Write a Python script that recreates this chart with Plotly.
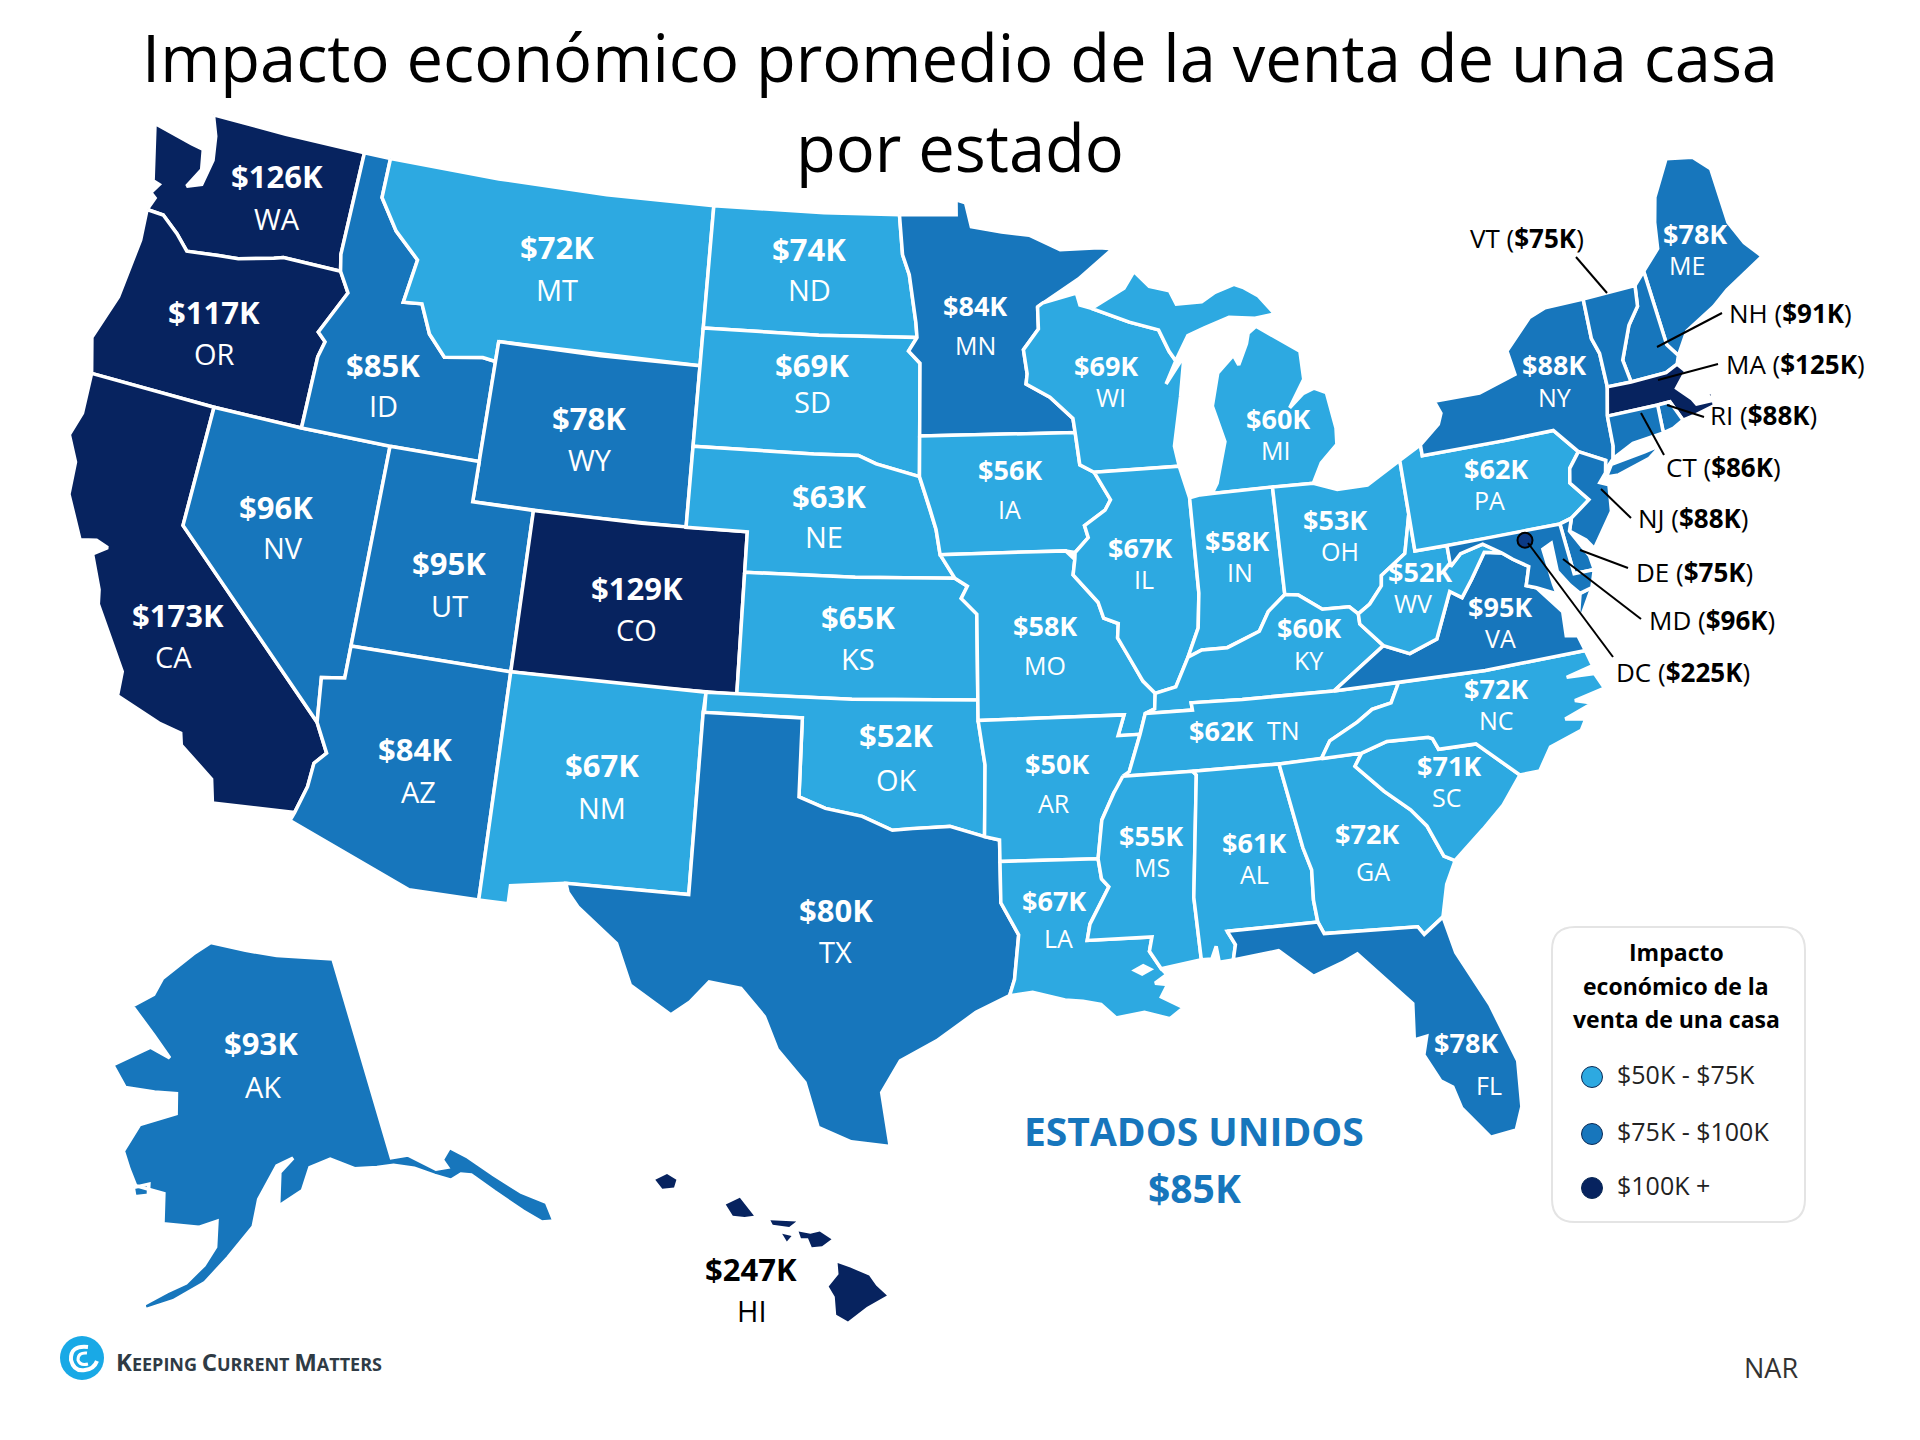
import numpy as np
import plotly.graph_objects as go

# the usa topojson is on a cdn and there is no network, so the outlines live here (lon, lat)
states = ["WA", "OR", "CA", "NV", "ID", "MT", "WY", "UT", "AZ", "CO", "NM", "ND", "SD", "NE", "KS", "OK", "TX",
          "MN", "IA", "MO", "AR", "LA", "WI", "IL", "MI", "IN", "OH", "KY", "TN", "MS", "AL", "GA", "FL", "SC",
          "NC", "VA", "WV", "PA", "NY", "ME", "AK", "HI"]
values = [126, 117, 173, 96, 85, 72, 78, 95, 84, 129, 67, 74, 69, 63, 65, 52, 80,
          84, 56, 58, 50, 67, 69, 67, 60, 58, 53, 60, 62, 55, 61, 72, 78, 71,
          72, 95, 52, 62, 88, 78, 93, 247]

small_states = ["VT", "NH", "MA", "RI", "CT", "NJ", "DE", "MD", "DC"]
small_values = [75, 91, 125, 88, 86, 88, 75, 96, 225]

legend_labels = ["$50K - $75K", "$75K - $100K", "$100K +"]
legend_title = ["Impacto", "económico de la", "venta de una casa"]
title_lines = ["Impacto económico promedio de la venta de una casa", "por estado"]
national_label = "ESTADOS UNIDOS"
national_value = 85

LIGHT = "#2DA9E1"
MID = "#1776BC"
DARK = "#07235F"

miss_upper = [(-92.8, 44.75), (-92.0, 44.4), (-91.25, 43.85), (-91.2, 43.5), (-91.1, 42.7), (-90.64, 42.5)]
miss_ia = [(-90.64, 42.5), (-90.15, 41.8), (-90.35, 41.55), (-91.05, 41.2), (-90.95, 40.9), (-91.4, 40.55), (-91.42, 40.38)]
miss_mo = [(-91.42, 40.38), (-91.5, 40.0), (-90.75, 39.3), (-90.6, 38.9), (-90.15, 38.75), (-90.2, 38.4), (-89.9, 37.95),
           (-89.5, 37.3), (-89.15, 36.98)]
ohio_west = [(-89.15, 36.98), (-88.5, 37.1), (-88.05, 37.8)]
ohio_in = [(-88.05, 37.8), (-87.6, 37.95), (-86.8, 37.95), (-86.3, 38.1), (-85.75, 38.27), (-85.4, 38.73), (-84.82, 39.1)]
ohio_oh = [(-84.82, 39.1), (-84.4, 39.05), (-83.7, 38.63), (-82.85, 38.6), (-82.6, 38.4)]
ohio_wv = [(-82.6, 38.4), (-82.2, 38.6), (-81.75, 39.0), (-81.7, 39.25), (-80.85, 39.7), (-80.6, 40.4), (-80.52, 40.64)]
colorado = [(-114.04, 36.2), (-114.74, 36.1), (-114.6, 35.0), (-114.14, 34.3), (-114.45, 34.0), (-114.5, 33.4), (-114.72, 32.72)]
red_river = [(-94.48, 33.64), (-95.5, 33.9), (-96.6, 33.85), (-97.2, 33.8), (-98.1, 34.13), (-99.2, 34.3), (-100.0, 34.56)]
rio_grande = [(-106.53, 31.78), (-106.2, 31.45), (-105.0, 30.65), (-104.5, 29.65), (-103.3, 29.0), (-102.8, 29.35),
              (-102.3, 29.88), (-101.4, 29.77), (-100.7, 29.1), (-100.3, 28.3), (-99.5, 27.5), (-99.1, 26.4), (-98.2, 26.06),
              (-97.15, 25.96)]

outlines = {
    "WA": [[(-122.75, 49), (-120, 49), (-117.03, 49), (-117.04, 46.4), (-116.92, 45.99), (-118.98, 46), (-119.3, 45.93),
            (-120.5, 45.7), (-121.2, 45.65), (-122.3, 45.55), (-122.8, 45.9), (-123.45, 46.25), (-124.05, 46.27),
            (-123.9, 46.6), (-124.1, 46.7), (-123.9, 46.95), (-124.15, 47), (-124.4, 47.6), (-124.7, 48.38), (-123.2, 48.15),
            (-122.75, 48.1), (-122.6, 47.6), (-122.95, 47.1), (-122.45, 47.25), (-122.3, 47.9), (-122.45, 48.5)]],
    "OR": [[(-124.05, 46.27), (-123.45, 46.25), (-122.8, 45.9), (-122.3, 45.55), (-121.2, 45.65), (-120.5, 45.7),
            (-119.3, 45.93), (-118.98, 46), (-116.92, 45.99), (-116.5, 45.5), (-117.2, 44.4), (-116.9, 44.2),
            (-117.03, 43.8), (-117.03, 42), (-120, 42), (-124.2, 42), (-124.55, 42.85), (-124.1, 44), (-123.95, 45.5)]],
    "CA": [[(-124.2, 42), (-120, 42), (-120, 39)] + colorado[2:] + [(-117.12, 32.53), (-117.3, 33.1), (-118.4, 33.75),
            (-118.5, 34.03), (-119.2, 34.15), (-120.6, 34.55), (-120.65, 35.15), (-121.9, 36.6), (-122.0, 36.95),
            (-122.5, 37.75), (-122.1, 38.0), (-122.5, 38.1), (-123.0, 38.0), (-123.75, 39.0), (-123.85, 39.8), (-124.3, 40.4), (-124.1, 41.0)]],
    "NV": [[(-120, 42), (-117.03, 42), (-114.04, 42), (-114.04, 37)] + colorado[:3] + [(-120, 39)]],
    "ID": [[(-117.03, 49), (-116.05, 49), (-116.05, 48), (-115.3, 47.25), (-114.35, 46.65), (-114.55, 45.55), (-113.9, 45.6),
            (-113.45, 44.9), (-112.8, 44.4), (-111.5, 44.55), (-111.05, 44.5), (-111.05, 42), (-114.04, 42), (-117.03, 42),
            (-117.03, 43.8), (-116.9, 44.2), (-117.2, 44.4), (-116.5, 45.5), (-116.92, 45.99), (-117.04, 46.4)]],
    "MT": [[(-116.05, 49), (-112, 49), (-108, 49), (-104.05, 49), (-104.05, 45), (-111.05, 45), (-111.05, 44.5), (-111.5, 44.55),
            (-112.8, 44.4), (-113.45, 44.9), (-113.9, 45.6), (-114.55, 45.55), (-114.35, 46.65), (-115.3, 47.25), (-116.05, 48)]],
    "WY": [[(-111.05, 45), (-107.5, 45), (-104.05, 45), (-104.05, 41), (-107.5, 41), (-111.05, 41)]],
    "UT": [[(-114.04, 42), (-111.05, 42), (-111.05, 41), (-109.05, 41), (-109.05, 37), (-114.04, 37)]],
    "AZ": [[(-114.04, 37), (-109.05, 37), (-109.05, 31.33), (-111.07, 31.33), (-114.81, 32.5)] + colorado[::-1]],
    "CO": [[(-109.05, 41), (-105.5, 41), (-102.05, 41), (-102.05, 37), (-105.5, 37), (-109.05, 37)]],
    "NM": [[(-109.05, 37), (-103, 37), (-103.04, 36.5), (-103.06, 32), (-106.62, 32), (-108.2, 31.78), (-108.2, 31.33),
            (-109.05, 31.33)]],
    "ND": [[(-104.05, 49), (-100, 49), (-97.23, 49), (-97.1, 48), (-96.85, 47.5), (-96.6, 46.3), (-96.56, 45.94), (-100, 45.94),
            (-104.05, 45.94)]],
    "SD": [[(-104.05, 45.94), (-100, 45.94), (-96.56, 45.94), (-96.85, 45.6), (-96.45, 45.3), (-96.45, 42.5), (-97.9, 42.8),
            (-98.5, 43), (-100, 43), (-104.05, 43)]],
    "NE": [[(-104.05, 43), (-100, 43), (-98.5, 43), (-97.9, 42.8), (-96.45, 42.5), (-96.1, 41.7), (-95.9, 41.2), (-95.77, 40.58),
            (-95.3, 40), (-98.5, 40), (-102.05, 40), (-102.05, 41), (-104.05, 41)]],
    "KS": [[(-102.05, 40), (-98.5, 40), (-95.3, 40), (-94.9, 39.8), (-95.1, 39.5), (-94.61, 39.11), (-94.62, 37), (-98.5, 37),
            (-102.05, 37)]],
    "OK": [[(-103, 37), (-98.5, 37), (-94.62, 37), (-94.62, 36.5), (-94.43, 35.4)] + red_river + [(-100, 36.5), (-103, 36.5)]],
    "TX": [rio_grande + [(-97.4, 27.3), (-96.9, 28.1), (-95.9, 28.6), (-94.8, 29.3), (-93.85, 29.7), (-93.7, 30.1), (-93.55, 31.2),
            (-94.04, 32), (-94.04, 33.02), (-94.04, 33.55)] + red_river + [(-100, 36.5), (-103.04, 36.5), (-103.06, 32), (-106.62, 32)]],
    "MN": [[(-97.23, 49), (-95.15, 49), (-95.15, 49.38), (-94.8, 49.3), (-94.6, 48.7), (-93.5, 48.55), (-92.5, 48.45), (-91.4, 48.05),
            (-90, 48.05), (-89.5, 48), (-90.8, 47.3), (-92.1, 46.75), (-92.3, 46.65), (-92.3, 46.1), (-92.85, 45.6), (-92.75, 45)]
           + miss_upper[:4] + [(-96.45, 43.5), (-96.45, 45.3), (-96.85, 45.6), (-96.56, 45.94), (-96.6, 46.3), (-96.85, 47.5), (-97.1, 48)]],
    "IA": [[(-96.45, 43.5), (-91.2, 43.5), (-91.1, 42.7)] + miss_ia[:6] + [(-91.7, 40.6), (-95.77, 40.58), (-95.9, 41.2),
            (-96.1, 41.7), (-96.45, 42.5)]],
    "MO": [[(-95.77, 40.58), (-91.7, 40.6)] + miss_mo + [(-89.2, 36.6), (-89.5, 36.5), (-89.7, 36), (-90.37, 36), (-90.15, 36.5),
            (-94.62, 36.5), (-94.62, 37), (-94.61, 39.11), (-95.1, 39.5), (-94.9, 39.8), (-95.3, 40)]],
    "AR": [[(-94.62, 36.5), (-90.15, 36.5), (-90.37, 36), (-89.7, 36), (-90.1, 35.1), (-90.6, 34.6), (-91, 33.95), (-91.17, 33),
            (-94.04, 33.02), (-94.04, 33.55), (-94.48, 33.64), (-94.43, 35.4)]],
    "LA": [[(-94.04, 33.02), (-91.17, 33), (-91.1, 32.5), (-90.9, 32.3), (-91.5, 31.4), (-91.6, 31), (-89.75, 31), (-89.85, 30.65),
            (-89.55, 30.2), (-89.4, 30.05), (-89.75, 29.85), (-89.4, 29.8), (-89.6, 29.5), (-89, 29.2), (-89.4, 28.95), (-90.1, 29.15),
            (-90.9, 29.05), (-91.3, 29.4), (-91.8, 29.5), (-92.3, 29.55), (-93.2, 29.77), (-93.85, 29.7), (-93.7, 30.1), (-93.55, 31.2), (-94.04, 32)]],
    "WI": [[(-92.3, 46.65), (-92.1, 46.75), (-90.9, 46.95), (-90.8, 46.65), (-90.4, 46.55), (-89.1, 46.15), (-88.1, 45.9), (-87.8, 45.35), (-87.6, 45.1),
            (-88, 44.55), (-87.3, 45.2), (-87.55, 44.2), (-87.9, 43), (-87.8, 42.5)] + miss_upper[::-1] + [(-92.75, 45), (-92.85, 45.6),
            (-92.3, 46.1)]],
    "IL": [[(-90.64, 42.5), (-87.8, 42.5), (-87.55, 41.7), (-87.53, 39.35), (-87.65, 38.5), (-88.05, 37.8), (-88.5, 37.1)]
           + miss_mo[::-1] + miss_ia[::-1][1:]],
    "MI": [[(-86.8, 41.76), (-84.8, 41.76), (-83.45, 41.73), (-83.1, 42.2), (-82.5, 42.6), (-82.45, 43), (-82.6, 43.9), (-83, 44.05),
            (-83.4, 43.95), (-83.9, 43.65), (-83.3, 44.3), (-83.3, 45), (-84.7, 45.75), (-85, 45.6), (-85.1, 45.35), (-85.45, 44.85), (-85.6, 45.1),
            (-86.2, 44.7), (-86.5, 43.9), (-86.2, 43), (-86.6, 42)],
           [(-90.4, 46.55), (-89.6, 46.85), (-89.2, 47), (-88.8, 47.4), (-88.3, 47), (-87.6, 46.85), (-87.4, 46.5), (-86.5, 46.5), (-86, 46.7),
            (-85.3, 46.85), (-85, 46.75), (-84.5, 46.5), (-84, 46), (-84.7, 45.95), (-85.6, 46.05), (-86.5, 45.85), (-87.1, 45.7), (-87.6, 45.1),
            (-87.8, 45.35), (-88.1, 45.9), (-89.1, 46.15)]],
    "IN": [[(-87.55, 41.7), (-87.2, 41.75), (-86.8, 41.76), (-84.8, 41.76)] + ohio_in[::-1] + [(-87.65, 38.5), (-87.53, 39.35)]],
    "OH": [[(-84.8, 41.76), (-83.45, 41.73), (-82.7, 41.5), (-81.7, 41.5), (-80.52, 41.98)] + ohio_wv[::-1] + ohio_oh[::-1]],
    "KY": [[(-89.5, 36.5), (-89.2, 36.6)] + ohio_west + ohio_in[1:] + ohio_oh[1:] + [(-82.6, 38.15), (-81.97, 37.54), (-83.68, 36.6),
            (-86.5, 36.65), (-88.07, 36.68), (-88.05, 36.5)]],
    "TN": [[(-90.3, 35), (-90.1, 35.1), (-89.7, 36), (-89.5, 36.5), (-88.05, 36.5), (-88.07, 36.68), (-86.5, 36.65), (-83.68, 36.6),
            (-81.68, 36.59), (-82, 36.12), (-82.6, 36.03), (-83.1, 35.77), (-84, 35.4), (-84.32, 34.99), (-85.6, 34.98), (-88.2, 35)]],
    "MS": [[(-90.3, 35), (-88.2, 35), (-88.1, 34.9), (-88.47, 31.9), (-88.4, 30.35), (-89.55, 30.2), (-89.85, 30.65), (-89.75, 31),
            (-91.6, 31), (-91.5, 31.4), (-90.9, 32.3), (-91.1, 32.5), (-91.17, 33), (-91, 33.95), (-90.6, 34.6)]],
    "AL": [[(-88.2, 35), (-85.6, 34.98), (-85.18, 32.87), (-85, 32.3), (-85.05, 31.55), (-85, 31), (-87.6, 31), (-87.4, 30.65),
            (-87.5, 30.28), (-87.9, 30.25), (-87.95, 30.65), (-88.1, 30.35), (-88.4, 30.35), (-88.47, 31.9), (-88.1, 34.9)]],
    "GA": [[(-85.6, 34.98), (-84.32, 34.99), (-83.1, 35), (-83.35, 34.7), (-82.6, 34), (-81.9, 33.45), (-81.5, 33), (-81.15, 32.2),
            (-80.85, 32.05), (-81.2, 31.5), (-81.45, 30.72), (-82.05, 30.36), (-82.2, 30.57), (-84.86, 30.7), (-85, 31), (-85.05, 31.55),
            (-85, 32.3), (-85.18, 32.87)]],
    "FL": [[(-87.6, 31), (-85, 31), (-84.86, 30.7), (-82.2, 30.57), (-82.05, 30.36), (-81.45, 30.72), (-81.25, 29.8), (-80.55, 28.4),
            (-80.05, 26.9), (-80.15, 25.75), (-80.4, 25.2), (-81.1, 25.12), (-81.75, 25.95), (-81.9, 26.5), (-82.2, 26.7), (-82.55, 27.4), (-82.4, 27.85),
            (-82.75, 27.8), (-82.65, 28.7), (-83.4, 29.5), (-84, 30.1), (-84.4, 29.95), (-85.3, 29.68), (-86.2, 30.4), (-87.5, 30.28), (-87.4, 30.65)]],
    "SC": [[(-83.1, 35), (-82.3, 35.2), (-81.05, 35.15), (-80.93, 35.1), (-80.8, 34.82), (-79.67, 34.8), (-78.55, 33.86), (-79.2, 33.2),
            (-79.9, 32.7), (-80.85, 32.05), (-81.15, 32.2), (-81.5, 33), (-81.9, 33.45), (-82.6, 34), (-83.35, 34.7)]],
    "NC": [[(-84.32, 34.99), (-84, 35.4), (-83.1, 35.77), (-82.6, 36.03), (-82, 36.12), (-81.68, 36.59), (-79, 36.54), (-75.87, 36.55),
            (-75.75, 36.15), (-76.6, 36.0), (-75.75, 35.95), (-75.55, 35.55), (-76.5, 35.4), (-76, 35.25), (-76.9, 35.0), (-76.3, 34.9),
            (-76.5, 34.65), (-77.5, 34.4), (-77.95, 33.87), (-78.55, 33.86), (-79.67, 34.8),
            (-80.8, 34.82), (-80.93, 35.1), (-81.05, 35.15), (-82.3, 35.2), (-83.1, 35)]],
    "VA": [[(-83.68, 36.6), (-81.68, 36.59), (-79, 36.54), (-75.87, 36.55), (-76, 36.95), (-76.35, 37), (-76.3, 37.6), (-76.95, 38.3),
            (-77.25, 38.4), (-77.05, 38.85), (-77.5, 39.1), (-77.8, 39.3), (-78.35, 39.4), (-78.9, 38.8), (-79.3, 38.4), (-79.65, 38.6),
            (-80.3, 37.5), (-81.2, 37.25), (-81.97, 37.54)],
           [(-75.95, 37.15), (-75.25, 38.03), (-75.65, 37.95)]],
    "WV": [ohio_wv + [(-80.52, 39.72), (-79.48, 39.72), (-79.48, 39.2), (-79.1, 39.47), (-78.35, 39.6), (-77.8, 39.3), (-78.35, 39.4),
            (-78.9, 38.8), (-79.3, 38.4), (-79.65, 38.6), (-80.3, 37.5), (-81.2, 37.25), (-81.97, 37.54), (-82.6, 38.15)]],
    "PA": [[(-80.52, 41.98), (-79.76, 42.27), (-79.76, 42), (-77, 42), (-75.35, 42), (-75.1, 41.75), (-74.7, 41.36), (-75.1, 41),
            (-75.2, 40.65), (-74.72, 40.15), (-75.4, 39.8), (-75.8, 39.72), (-78, 39.72), (-80.52, 39.72), (-80.52, 40.64)]],
    "NY": [[(-79.76, 42.27), (-79.05, 42.7), (-78.9, 42.95), (-79.05, 43.27), (-77.5, 43.27), (-76.2, 43.55), (-76.3, 44.15), (-75.3, 44.85),
            (-74.7, 45), (-73.35, 45), (-73.4, 44), (-73.25, 43.6), (-73.27, 42.75), (-73.5, 42.05), (-73.55, 41.3), (-73.65, 41), (-74, 40.75),
            (-73.9, 41), (-74.7, 41.36), (-75.1, 41.75), (-75.35, 42), (-77, 42), (-79.76, 42)],
           [(-74, 40.6), (-73.75, 40.87), (-72.6, 40.98), (-72, 41.05), (-72.5, 40.8), (-73.6, 40.58)]],
    "NJ": [[(-74.7, 41.36), (-73.9, 41), (-74, 40.7), (-74.25, 40.5), (-73.98, 40.4), (-74.1, 39.75), (-74.9, 38.95), (-75.1, 39.2),
            (-75.55, 39.5), (-75.4, 39.8), (-74.72, 40.15), (-75.2, 40.65), (-75.1, 41)]],
    "DE": [[(-75.8, 39.72), (-75.4, 39.8), (-75.55, 39.5), (-75.1, 38.8), (-75.05, 38.45), (-75.7, 38.45)]],
    "MD": [[(-79.48, 39.72), (-75.8, 39.72), (-75.7, 38.45), (-75.05, 38.45), (-75.25, 38.03), (-75.65, 37.95), (-75.9, 38.2), (-76.2, 38.6),
            (-76.2, 39.3), (-76.5, 39.2), (-76.4, 38.3), (-76.35, 38.05), (-76.95, 38.3), (-77.25, 38.4), (-77.05, 38.85), (-77.5, 39.1),
            (-77.8, 39.3), (-78.35, 39.6), (-79.1, 39.47), (-79.48, 39.2)]],
    "ME": [[(-71.08, 45.3), (-70.4, 45.75), (-70.25, 46.4), (-70, 47), (-69.23, 47.85), (-68.3, 47.7), (-67.8, 47.3), (-67.78, 45.9),
            (-67.45, 45.3), (-67, 44.85), (-68.5, 44.3), (-69.1, 44), (-70.2, 43.6), (-70.7, 43.07), (-70.98, 43.4)]],
    "NH": [[(-71.5, 45.01), (-71.08, 45.3), (-70.98, 43.4), (-70.7, 43.07), (-70.82, 42.87), (-71.25, 42.74), (-72.46, 42.73), (-72.55, 43.3),
            (-72.05, 44.1), (-71.6, 44.5)]],
    "VT": [[(-73.35, 45), (-71.5, 45.01), (-71.6, 44.5), (-72.05, 44.1), (-72.55, 43.3), (-72.46, 42.73), (-73.27, 42.75), (-73.25, 43.6), (-73.4, 44)]],
    "MA": [[(-73.5, 42.05), (-73.27, 42.75), (-72.46, 42.73), (-71.25, 42.74), (-70.82, 42.87), (-70.6, 42.65), (-71.05, 42.3), (-70.65, 41.95),
            (-70.55, 41.8), (-70, 41.78), (-70.2, 42.07), (-69.95, 41.95), (-70, 41.65), (-70.65, 41.55), (-71.12, 41.5), (-71.38, 42.02), (-71.8, 42.02)]],
    "RI": [[(-71.8, 42.02), (-71.38, 42.02), (-71.12, 41.5), (-71.5, 41.37), (-71.85, 41.32)]],
    "CT": [[(-73.5, 42.05), (-71.8, 42.02), (-71.85, 41.32), (-72.9, 41.25), (-73.65, 41), (-73.55, 41.3)]],
    "AK": [[(-141, 69.65), (-141, 60.3), (-139.5, 60.2), (-137.5, 59.2), (-136.5, 59.1), (-136.7, 59.5), (-135.7, 59.9), (-134.5, 59.2), (-133, 58),
            (-131.5, 56.8), (-130, 55.9), (-130.1, 55), (-131, 55.2), (-132, 56), (-133.5, 57.3), (-134.8, 58.4), (-135.6, 58.6), (-136.6, 58.5),
            (-137.8, 58.95), (-139.3, 59.55), (-141, 59.95), (-142.5, 60.05), (-144.5, 60.25), (-146.5, 60.9), (-148.5, 60.7), (-149.5, 59.75),
            (-151.8, 59.2), (-151.3, 60.7), (-149.9, 61.25), (-151.5, 61), (-153.5, 59.6), (-154.2, 58.4), (-156.5, 57.1), (-158.5, 56), (-161, 55.2),
            (-163.2, 54.75), (-163.3, 55), (-161.5, 55.6), (-160, 56), (-158.5, 56.8), (-157.5, 57.6), (-157.3, 58.75), (-158.9, 58.5), (-162, 58.65),
            (-162, 60), (-164.6, 60.3), (-165.3, 61), (-166, 61.8), (-164.6, 63.05), (-161, 63.6), (-161, 64.5), (-163.3, 64.55), (-166.4, 64.65),
            (-168, 65.6), (-164, 66.55), (-161.8, 66.1), (-163.7, 67.1), (-166.5, 68.35), (-164, 68.95), (-163, 69.7), (-159, 70.85), (-156.6, 71.35),
            (-152, 70.85), (-148, 70.4)],
           [(-164.8, 60.2), (-163.4, 60.4), (-163.4, 59.9), (-164.6, 59.8)]],
    "HI": [[(-155.87, 20.25), (-155.6, 20.15), (-155.2, 19.97), (-155.05, 19.75), (-154.82, 19.53), (-155.25, 19.27), (-155.65, 18.95),
            (-155.9, 19.1), (-155.93, 19.5), (-156.06, 19.73), (-155.85, 20)],
           [(-156.7, 20.95), (-156.45, 20.9), (-156.25, 20.95), (-156, 20.78), (-156.2, 20.62), (-156.42, 20.6), (-156.5, 20.8), (-156.65, 20.8)],
           [(-157.3, 21.2), (-156.75, 21.17), (-156.9, 21.05), (-157.25, 21.1)],
           [(-157.05, 20.9), (-156.85, 20.85), (-156.95, 20.73)],
           [(-158.25, 21.55), (-157.95, 21.7), (-157.65, 21.3), (-157.85, 21.27), (-158.1, 21.3)],
           [(-159.75, 22.1), (-159.5, 22.23), (-159.3, 22.1), (-159.35, 21.93), (-159.6, 21.9)]],
}
lakes = [[(-90.4, 30.2), (-90.05, 30.35), (-89.75, 30.2), (-90.1, 30.05)]]
# sits further north than the real DC, just under the PA line as in the picture
dc_location = (-77.0, 39.5)

# where the text goes, in the 1920x1440 page
label_pos = {
    "WA": (277, 176, 277, 218), "OR": (214, 312, 214, 353), "CA": (178, 615, 173, 656), "NV": (276, 507, 283, 547),
    "ID": (383, 365, 383, 405), "MT": (557, 247, 557, 289), "WY": (589, 418, 590, 459), "UT": (449, 563, 449, 605),
    "AZ": (415, 749, 418, 791), "CO": (637, 588, 636, 629), "NM": (602, 765, 602, 807), "ND": (809, 249, 809, 289),
    "SD": (812, 365, 812, 401), "NE": (829, 496, 824, 536), "KS": (858, 617, 858, 658), "OK": (896, 735, 896, 779),
    "TX": (836, 910, 835, 951), "MN": (975, 305, 975, 345), "IA": (1010, 469, 1009, 509), "MO": (1045, 625, 1045, 665),
    "AR": (1057, 763, 1054, 803), "LA": (1054, 900, 1058, 938), "WI": (1106, 365, 1111, 397), "IL": (1140, 547, 1144, 579),
    "MI": (1278, 418, 1275, 450), "IN": (1237, 540, 1240, 572), "OH": (1335, 519, 1340, 551), "KY": (1309, 627, 1308, 660),
    "TN": (1221, 730, 1283, 730), "MS": (1151, 835, 1152, 867), "AL": (1254, 842, 1254, 874), "GA": (1367, 833, 1373, 871),
    "FL": (1466, 1042, 1489, 1085), "SC": (1449, 765, 1446, 797), "NC": (1496, 688, 1496, 720), "VA": (1500, 606, 1500, 638),
    "WV": (1420, 571, 1413, 603), "PA": (1496, 468, 1489, 500), "NY": (1554, 364, 1554, 397), "ME": (1695, 233, 1687, 265),
    "AK": (261, 1043, 263, 1086), "HI": (751, 1269, 751, 1310),
}
small_text = ["MN", "IA", "MO", "AR", "LA", "WI", "IL", "MI", "IN", "OH", "KY", "TN", "MS", "AL", "GA", "FL", "SC", "NC",
              "VA", "WV", "PA", "NY", "ME"]
small_label_pos = [(1527, 238), (1790, 313), (1795, 364), (1763, 415), (1723, 467), (1693, 518), (1694, 572), (1712, 620), (1683, 672)]
leaders = [(1576, 257, 1607, 293), (1722, 313, 1657, 347), (1718, 364, 1658, 380), (1704, 417, 1667, 405), (1664, 455, 1641, 413),
           (1631, 518, 1601, 489), (1628, 568, 1580, 550), (1641, 619, 1563, 559), (1613, 657, 1528, 543)]


def albers(lon, lat, lon0, lat0, p1, p2):
    n = (np.sin(np.radians(p1)) + np.sin(np.radians(p2))) / 2
    c = np.cos(np.radians(p1)) ** 2 + 2 * n * np.sin(np.radians(p1))
    rho = np.sqrt(c - 2 * n * np.sin(np.radians(lat))) / n
    rho0 = np.sqrt(c - 2 * n * np.sin(np.radians(lat0))) / n
    theta = np.radians(n * (lon - lon0))
    return rho * np.sin(theta), rho0 - rho * np.cos(theta)


def project(code, lon, lat):
    lon, lat = np.array(lon, float), np.array(lat, float)
    if code == "AK":
        x, y = albers(lon, lat, -160, 60, 55, 65)
        return 186 + 1272 * x, 1194 - 1272 * y
    if code == "HI":
        return 667 + 47 * (lon + 159.5), 1182 - 45 * (lat - 22.05)
    x, y = albers(lon, lat, -96, 37.5, 29.5, 45.5)
    return 933 + 2351 * x, 680 - 2310 * y


def bin_color(v):
    if v < 75:
        return LIGHT
    if v < 100:
        return MID
    return DARK


def add_shape(code, parts, color, width):
    xs, ys = [], []
    for part in parts:
        lon, lat = zip(*(part + part[:1]))
        px, py = project(code, lon, lat)
        xs += list(px) + [None]
        ys += list(py) + [None]
    fig.add_trace(go.Scatter(x=xs, y=ys, mode="lines", fill="toself", fillcolor=color,
                             line=dict(color="white", width=width), name=code, hoverinfo="name", showlegend=False))


value_of = dict(zip(states + small_states, values + small_values))
FONT = "Open Sans"
fig = go.Figure()

for code, parts in outlines.items():
    add_shape(code, parts, bin_color(value_of[code]), 0 if code == "HI" else 3.5)
add_shape("lake", lakes, "white", 0)

dcx, dcy = project("DC", [dc_location[0]], [dc_location[1]])
annotations = []
shapes = []


def add_text(x, y, text, size, color="black", bold=False, anchor="center"):
    annotations.append(dict(x=x, y=y, xref="x", yref="y", text=f"<b>{text}</b>" if bold else text, showarrow=False,
                            xanchor=anchor, yanchor="middle", font=dict(family=FONT, size=size, color=color)))


for code, v in zip(states, values):
    vx, vy, cx, cy = label_pos[code]
    vsize, csize = (27, 25) if code in small_text else (31, 29)
    color = "black" if code == "HI" else "white"
    add_text(vx, vy, f"${v}K", vsize, color, True)
    add_text(cx, cy, code, csize, color)

for code, v, (x, y) in zip(small_states, small_values, small_label_pos):
    add_text(x, y, f"{code} (<b>${v}K</b>)", 26)

for x0, y0, x1, y1 in leaders:
    shapes.append(dict(type="line", x0=x0, y0=y0, x1=x1, y1=y1, xref="x", yref="y", line=dict(color="black", width=2)))

fig.add_trace(go.Scatter(x=dcx, y=dcy, mode="markers", marker=dict(size=15, color="#0B3A86", line=dict(color="black", width=2)),
                         name="DC", hoverinfo="name", showlegend=False))

add_text(960, 57, title_lines[0], 65, "black")
add_text(960, 147, title_lines[1], 65, "black")
add_text(1194, 1130, national_label, 39, MID, True)
add_text(1194, 1187, f"${national_value}K", 39, MID, True)

# legend card
shapes.append(dict(type="path", xref="x", yref="y", line=dict(color="#E4E4E4", width=2), fillcolor="white", layer="below",
                   path="M 1575 927 L 1782 927 Q 1805 927 1805 950 L 1805 1199 Q 1805 1222 1782 1222 L 1575 1222 "
                        "Q 1552 1222 1552 1199 L 1552 950 Q 1552 927 1575 927 Z"))
for line, y in zip(legend_title, [952, 986, 1019]):
    add_text(1676, y, line, 23, "black", True)
for label, y, color in zip(legend_labels, [1077, 1134, 1188], [LIGHT, MID, DARK]):
    fig.add_trace(go.Scatter(x=[1592], y=[y], mode="markers", marker=dict(size=21, color=color, line=dict(color="#0B2A55", width=1)),
                             name=label, hoverinfo="name", showlegend=False))
    add_text(1615, y - 3, label, 25, "#222222", anchor="left")

add_text(1771, 1367, "NAR", 27, "#333333")

# logo: blue disc with a white swirl on top
shapes.append(dict(type="circle", xref="x", yref="y", x0=60, y0=1336, x1=104, y1=1380, fillcolor="#19A9E6", line=dict(width=0)))
shapes.append(dict(type="path", xref="x", yref="y", line=dict(color="white", width=4),
                   path="M 88 1347 Q 70 1345 71 1360 Q 74 1372 85 1370 Q 94 1369 97 1361"))
shapes.append(dict(type="path", xref="x", yref="y", line=dict(color="white", width=3),
                   path="M 87 1353 Q 78 1352 78 1360 Q 80 1366 88 1364"))
logo = ('<span style="font-size:24px">K</span>EEPING <span style="font-size:24px">C</span>URRENT '
        '<span style="font-size:24px">M</span>ATTERS')
add_text(114, 1361, f"<b>{logo}</b>", 18, "#2F3B45", anchor="left")

# the page body has an 8px margin, so the plot is 8px smaller and starts at 8
fig.update_layout(
    width=1912, height=1432, margin=dict(l=0, r=0, t=0, b=0), paper_bgcolor="white", plot_bgcolor="white",
    xaxis=dict(range=[8, 1920], visible=False, fixedrange=True),
    yaxis=dict(range=[1440, 8], visible=False, fixedrange=True),
    annotations=annotations, shapes=shapes, font=dict(family=FONT),
)
fig.write_html("out.html")
